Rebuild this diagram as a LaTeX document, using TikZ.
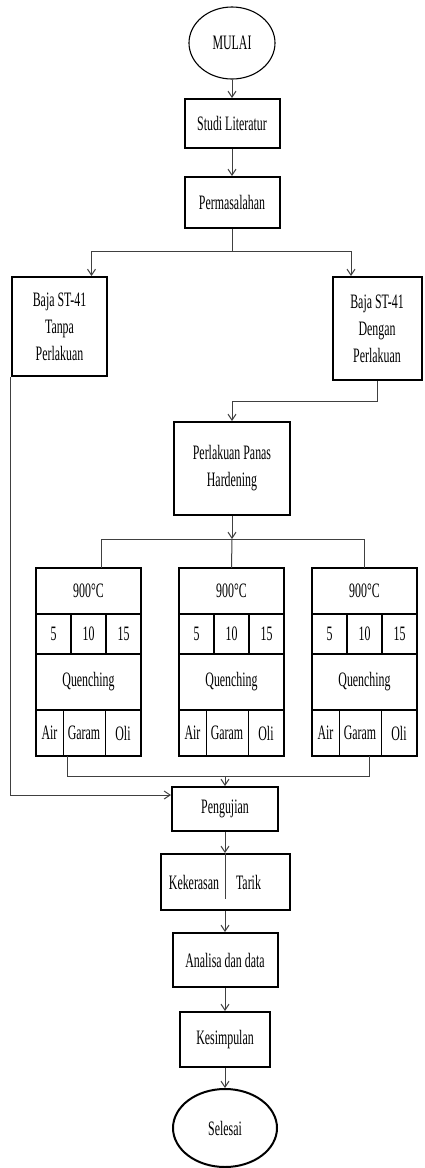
\documentclass[tikz,border=0pt]{standalone}
\usepackage{fontspec}
\setmainfont{Liberation Serif}[FakeStretch=0.58]
\usetikzlibrary{arrows.meta,positioning,shapes.geometric}

\begin{document}
\begin{tikzpicture}[
    x=1bp, y=-1bp,
    box/.style={rectangle, draw, line width=2bp, align=center, inner sep=1bp, font=\fontsize{20.5bp}{27bp}\selectfont},
    term/.style={ellipse, draw, line width=1.1bp, inner sep=0pt, font=\fontsize{20.5bp}{27bp}\selectfont},
    cell/.style={rectangle, draw, line width=2bp, outer sep=0pt, inner sep=0pt, font=\fontsize{20.5bp}{27bp}\selectfont},
    thincell/.style={cell, line width=0.9bp},
    txt/.style={inner sep=0pt, font=\fontsize{20.5bp}{27bp}\selectfont},
    line/.style={line width=1bp, black!75},
    arrow/.style={line, -{Straight Barb[length=6bp,width=8bp]}}
]
    \useasboundingbox (0,0) rectangle (424,1168);

    % main column
    \node[term, minimum width=86bp, minimum height=72bp] (mulai) at (232,43) {MULAI};
    \node[box, minimum width=95bp, minimum height=49bp] (studi) at (232,123.5) {Studi Literatur};
    \node[box, minimum width=95bp, minimum height=51bp] (masalah) at (232,202.5) {Permasalahan};
    \node[box, minimum width=95bp, minimum height=99bp] (tanpa) at (59.5,326.5) {Baja ST-41\\Tanpa\\Perlakuan};
    \node[box, minimum width=89bp, minimum height=103bp] (dengan) at (377,328.5) {Baja ST-41\\Dengan\\Perlakuan};
    \node[box, minimum width=116bp, minimum height=93bp] (panas) at (232,468.5) {Perlakuan Panas\\Hardening};

    % three quenching tables
    \foreach \g/\cx in {l/88.5, m/231.5, r/364.5} {
        \node[cell, minimum width=105bp, minimum height=46bp] (\g-temp) at (\cx,591) {900°C};
        \node[cell, minimum width=35bp, minimum height=40bp, below right=0pt of \g-temp.south west] (\g-n1) {5};
        \node[cell, minimum width=35bp, minimum height=40bp, right=0pt of \g-n1] (\g-n2) {10};
        \node[cell, minimum width=35bp, minimum height=40bp, right=0pt of \g-n2] (\g-n3) {15};
        \node[cell, minimum width=105bp, minimum height=56bp, below=0pt of \g-n2] (\g-quench) {Quenching};
        \node[thincell, minimum width=27bp, minimum height=46bp, below right=0pt of \g-quench.south west] (\g-air) {Air};
        \node[thincell, minimum width=42bp, minimum height=46bp, right=0pt of \g-air] (\g-garam) {Garam};
        \node[thincell, minimum width=36bp, minimum height=46bp, right=0pt of \g-garam] (\g-oli) {Oli};
        \draw[line width=2bp] (\g-air.north west) rectangle (\g-oli.south east);
    }

    \node[box, minimum width=106bp, minimum height=44bp] (uji) at (225,809) {Pengujian};
    \node[box, minimum width=129bp, minimum height=56bp] (jenis) at (225,882) {};
    \node[txt] (keras) at (194,882) {Kekerasan};
    \node[txt] (tarik) at (248.5,882) {Tarik};
    \node[box, minimum width=105bp, minimum height=54bp] (analisa) at (225,960) {Analisa dan data};
    \node[box, minimum width=90bp, minimum height=55bp] (simpul) at (225,1039.5) {Kesimpulan};
    \node[term, line width=2bp, minimum width=104bp, minimum height=78bp] (selesai) at (225,1128) {Selesai};

    \coordinate (split) at (232,251);
    \coordinate (split2) at (232,539);
    \coordinate (merge) at (225,776);

    \draw[arrow] (mulai) -- (studi);
    \draw[arrow] (studi) -- (masalah);
    \draw[line] (masalah) -- (split);
    \draw[arrow] (split) -| ([xshift=32bp]tanpa.north);
    \draw[arrow] (split) -| ([xshift=-26bp]dengan.north);
    \draw[arrow] (dengan.south) -- ++(0,20) -| (panas.north);
    \draw[arrow] (panas) -- (split2);
    \draw[line] ([xshift=13bp]l-temp.north) -- ++(0,-29) -| (r-temp.north);
    \draw[line] (split2) -- (m-temp.north);
    \draw[line] ([xshift=4bp]l-air.south east) -- ++(0,20) -| ([xshift=-12bp]r-garam.south east);
    \draw[arrow] (merge) -- (uji);
    \draw[arrow] (tanpa.south west) |- ([yshift=14bp]uji.west);
    \draw[arrow] (uji) -- (jenis);
    \draw[line] (jenis.north) -- ([yshift=12bp]jenis.south);
    \draw[arrow] (jenis) -- (analisa);
    \draw[arrow] (analisa) -- (simpul);
    \draw[arrow] (simpul) -- (selesai);
\end{tikzpicture}
\end{document}
